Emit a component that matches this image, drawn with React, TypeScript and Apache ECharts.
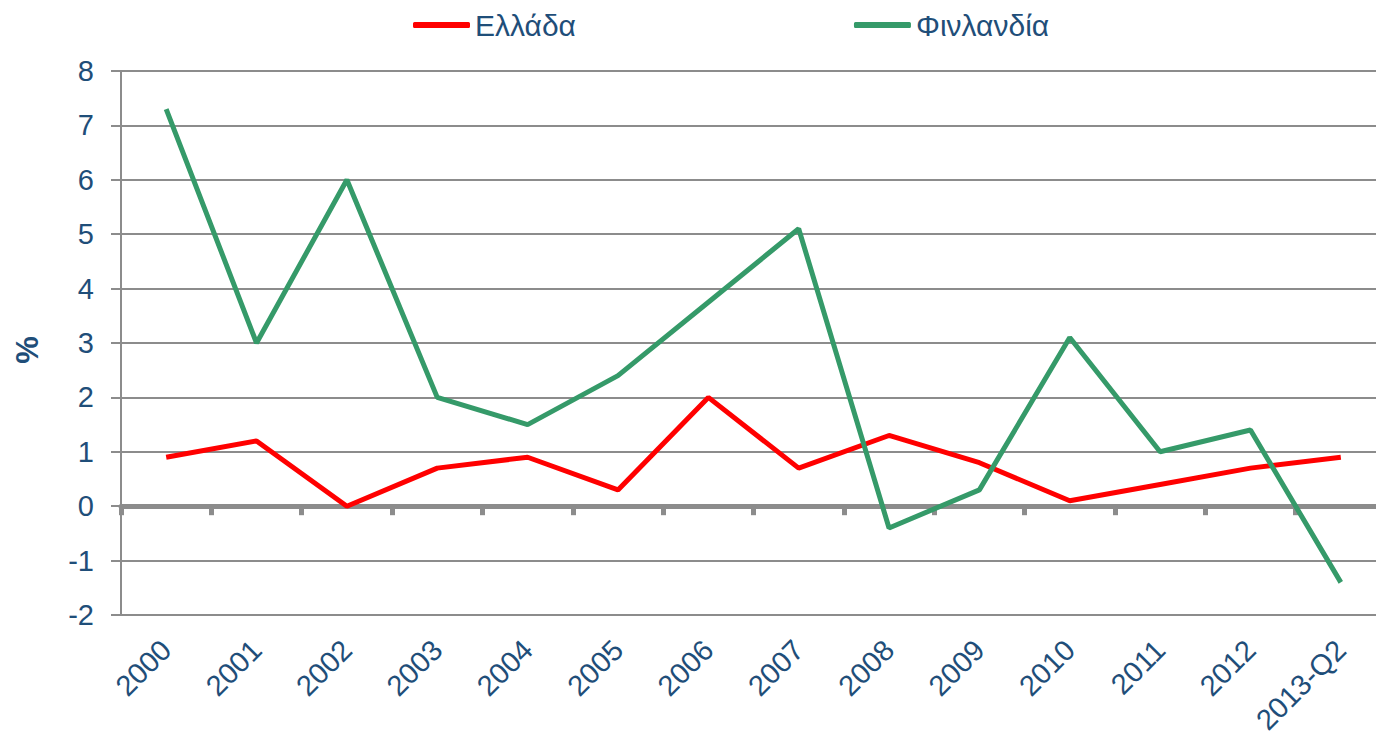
import React, { useEffect, useRef } from "react";
import * as echarts from "echarts";

const categories = ["2000", "2001", "2002", "2003", "2004", "2005", "2006", "2007", "2008", "2009", "2010", "2011", "2012", "2013-Q2"];
const greece = [0.9, 1.2, 0.0, 0.7, 0.9, 0.3, 2.0, 0.7, 1.3, 0.8, 0.1, 0.4, 0.7, 0.9];
const finland = [7.3, 3.0, 6.0, 2.0, 1.5, 2.4, 3.75, 5.1, -0.4, 0.3, 3.1, 1.0, 1.4, -1.4];
const seriesNames = ["Ελλάδα", "Φινλανδία"];
const yAxisName = "%";

const TEXT = "#1f4e79";
const GRID = "#8c8c8c";
const FONT = "Liberation Sans, Arial, sans-serif";

export default function App() {
  const ref = useRef<HTMLDivElement>(null);
  useEffect(() => {
    const chart = echarts.init(ref.current!, null, { renderer: "svg" });
    chart.setOption({
      animation: false,
      textStyle: { fontFamily: FONT },
      legend: {
        data: seriesNames,
        top: 5,
        left: 408,
        itemGap: 278,
        itemWidth: 57,
        itemHeight: 6,
        icon: "roundRect",
        textStyle: { color: TEXT, fontSize: 30, fontFamily: FONT },
      },
      graphic: [
        {
          type: "text",
          x: 27,
          y: 350,
          rotation: Math.PI / 2,
          style: {
            text: yAxisName,
            fill: TEXT,
            font: `bold 31px ${FONT}`,
            align: "center",
            verticalAlign: "middle",
          },
        },
      ],
      grid: { left: 121, top: 71, width: 1265, bottom: 126, outerBoundsMode: "none", containLabel: false },
      xAxis: [
        {
          type: "category",
          data: categories,
          boundaryGap: true,
          position: "bottom",
          axisLine: { show: false, onZero: false },
          axisTick: { show: false },
          axisLabel: {
            rotate: 45,
            color: TEXT,
            fontSize: 29,
            fontFamily: FONT,
            margin: 30,
          },
        },
        {
          type: "category",
          data: categories,
          boundaryGap: true,
          position: "bottom",
          axisLine: { show: true, onZero: true, lineStyle: { color: GRID, width: 5 } },
          axisTick: { show: true, length: 9, lineStyle: { color: GRID, width: 5 } },
          axisLabel: { show: false },
        },
      ],
      yAxis: {
        type: "value",
        min: -2,
        max: 8,
        interval: 1,
        axisLine: { show: true, lineStyle: { color: GRID, width: 2 } },
        axisTick: { show: true, length: 10, lineStyle: { color: GRID, width: 2 } },
        axisLabel: { color: TEXT, fontSize: 29, fontFamily: FONT, margin: 27 },
        splitLine: { show: true, lineStyle: { color: GRID, width: 2 } },
      },
      series: [
        {
          name: seriesNames[0],
          type: "line",
          data: greece,
          xAxisIndex: 0,
          symbol: "none",
          color: "#ff0000",
          lineStyle: { color: "#ff0000", width: 5 },
        },
        {
          name: seriesNames[1],
          type: "line",
          data: finland,
          xAxisIndex: 0,
          symbol: "none",
          color: "#359a69",
          lineStyle: { color: "#359a69", width: 5 },
        },
      ],
    });
    return () => chart.dispose();
  }, []);
  return <div ref={ref} style={{ width: 1376, height: 741, position: "absolute", left: 0, top: 0 }} />;
}
